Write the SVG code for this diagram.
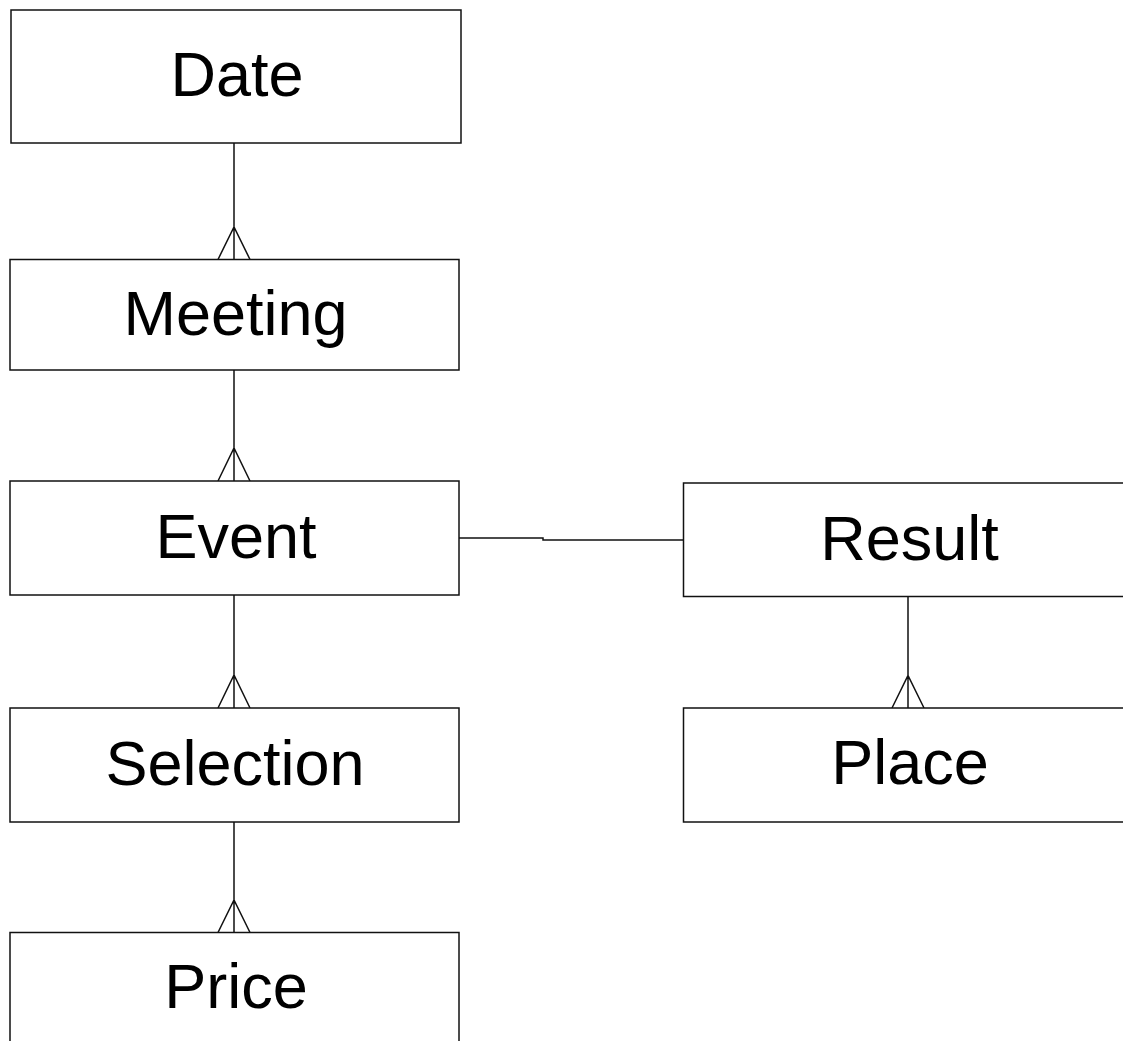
<svg xmlns="http://www.w3.org/2000/svg" width="1123" height="1041" viewBox="0 0 1123 1041">
<style>
.box{fill:#fff;stroke:#111;stroke-width:1.5}
.lbl{font-family:"Liberation Sans",Arial,sans-serif;font-size:63px;fill:#000;text-anchor:middle}
.conn{fill:none;stroke:#111;stroke-width:1.5}
</style>
<rect width="1123" height="1041" fill="#fff"/>
<g id="connectors">
<path class="conn" d="M234 143V259.5M218 259.5L234 227L250 259.5"/>
<path class="conn" d="M234 370V481M218 481L234 448L250 481"/>
<path class="conn" d="M234 595V708M218 708L234 675L250 708"/>
<path class="conn" d="M234 822V932.5M218 932.5L234 900L250 932.5"/>
<path class="conn" d="M908 596.5V708M892 708L908 675.5L924 708"/>
<path class="conn" d="M459 538H543V540H683.5"/>
</g>
<g id="date"><rect class="box" x="11" y="10" width="450" height="133"/><text class="lbl" x="237" y="96">Date</text></g>
<g id="meeting"><rect class="box" x="10" y="259.5" width="449" height="110.5"/><text class="lbl" x="235.5" y="335">Meeting</text></g>
<g id="event"><rect class="box" x="10" y="481" width="449" height="114"/><text class="lbl" x="236" y="557.5">Event</text></g>
<g id="selection"><rect class="box" x="10" y="708" width="449" height="114"/><text class="lbl" x="235" y="785">Selection</text></g>
<g id="price"><rect class="box" x="10" y="932.5" width="449" height="114"/><text class="lbl" x="236" y="1008">Price</text></g>
<g id="result"><rect class="box" x="683.5" y="483" width="450" height="113.5"/><text class="lbl" x="909.5" y="560">Result</text></g>
<g id="place"><rect class="box" x="683.5" y="708" width="450" height="114"/><text class="lbl" x="910" y="784">Place</text></g>
</svg>
